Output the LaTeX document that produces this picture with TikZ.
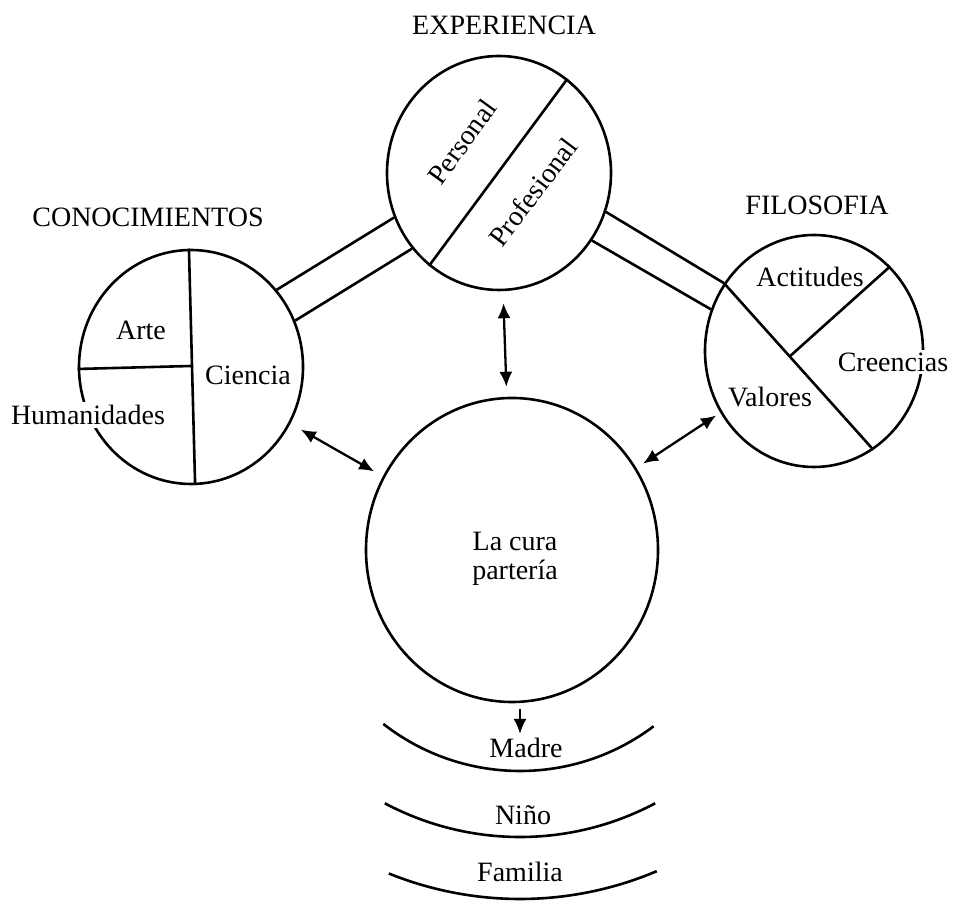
\documentclass[tikz,border=0pt]{standalone}
\usepackage{fontspec}
\setmainfont{Liberation Serif}
\usetikzlibrary{arrows.meta,shapes.geometric,calc}
\tikzset{
  lbl/.style={font=\fontsize{28}{29}\selectfont, inner sep=2pt, align=center},
  ring/.style={ellipse, draw, line width=2.6pt, inner sep=0pt},
  part/.style={line width=2.6pt},
  dbl/.style={line width=2.3pt, {Latex[length=15pt,width=13pt]}-{Latex[length=15pt,width=13pt]}},
  sgl/.style={line width=2.3pt, -{Latex[length=15pt,width=13pt]}},
  wave/.style={line width=2.6pt},
}
\begin{document}
\begin{tikzpicture}[x=1pt,y=1pt]
\useasboundingbox (0,0) rectangle (953,901);
\fill[white] (0,0) rectangle (953,901);
% circles
\node[ring, minimum width=224pt, minimum height=234pt] (top) at (499,728) {};
\node[ring, minimum width=224pt, minimum height=234pt] (left) at (191,534) {};
\node[ring, minimum width=218pt, minimum height=232pt] (right) at (814,550) {};
\node[ring, minimum width=292pt, minimum height=304pt] (cura) at (512,351) {};
% titles
\node[lbl] (texp) at (504,876) {EXPERIENCIA};
\node[lbl] (tcon) at (148,684) {CONOCIMIENTOS};
\node[lbl] (tfil) at (817,696) {FILOSOFIA};
% dividers
\draw[part] (top.54) -- (top.233);
\draw[part] (left.91.5) -- (left.272);
\draw[part] (left.181.5) -- ($(left.91.5)!(left.181.5)!(left.272)$);
\draw[part] (right.143) -- (right.301);
\draw[part] (right.48) -- ($(right.143)!(right.48)!(right.301)$);
% bridges
\draw[part] (left.42) -- (top.203);
\draw[part] (left.24) -- (top.221);
\draw[part] (top.340) -- (right.143);
\draw[part] (top.324) -- (right.158.5);
% texts inside
\node[lbl, rotate=54] (pers) at (462,759) {Personal};
\node[lbl, rotate=53] (prof) at (533,709) {Profesional};
\node[lbl] (arte) at (141,571) {Arte};
\node[lbl] (cien) at (248,526) {Ciencia};
\node[lbl, fill=white, inner sep=3pt] (huma) at (88,486) {Humanidades};
\node[lbl] (acti) at (810,624) {Actitudes};
\node[lbl, fill=white, inner sep=3pt] (cree) at (893,539) {Creencias};
\node[lbl] (valo) at (770,504) {Valores};
\node[lbl] (ctext) at (515,342) {La cura\\partería};
% arrows
\draw[dbl, shorten <=12pt, shorten >=10pt] (top) -- (cura);
\draw[dbl, shorten <=12pt, shorten >=10pt] (left) -- (cura);
\draw[dbl, shorten <=5pt, shorten >=8pt] (right) -- (cura);
% ripples
\coordinate (rc) at (520,352);
\node[lbl] (madre) at (526,153) {Madre};
\node[lbl] (nino) at (523,86) {Niño};
\node[lbl] (fami) at (520,29) {Familia};
\draw[sgl, shorten <=6pt, shorten >=2pt] ([xshift=8pt]cura.south) -- ([xshift=-6pt]madre.north);
\draw[wave] ([shift={(232:222)}]rc) arc[start angle=232, end angle=307, radius=222];
\draw[wave] ([shift={(242:288)}]rc) arc[start angle=242, end angle=298, radius=288];
\draw[wave] ([shift={(248:350)}]rc) arc[start angle=248, end angle=293, radius=350];
\end{tikzpicture}
\end{document}
